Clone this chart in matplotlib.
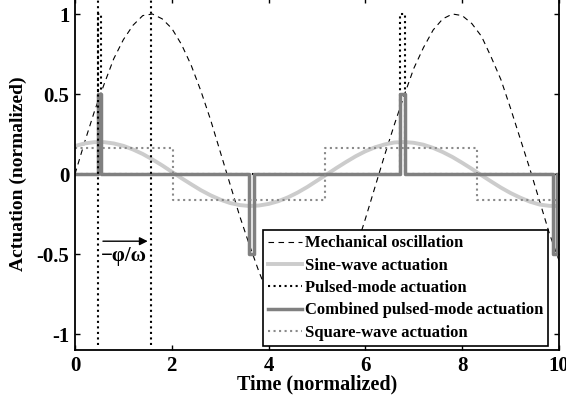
import matplotlib.pyplot as plt

# tempo e curvas (passo 0.2)
t = [round(0.2 * i, 1) for i in range(51)]
mechanical = [0.00, 0.20, 0.39, 0.56, 0.72, 0.84, 0.93, 0.99, 1.00, 0.97,
              0.91, 0.81, 0.68, 0.52, 0.34, 0.14, -0.06, -0.26, -0.44, -0.61,
              -0.76, -0.87, -0.95, -0.99, -1.00, -0.96, -0.88, -0.77, -0.63, -0.47,
              -0.28, -0.08, 0.12, 0.31, 0.49, 0.66, 0.79, 0.90, 0.97, 1.00,
              0.99, 0.94, 0.86, 0.73, 0.59, 0.41, 0.22, 0.03, -0.17, -0.37, -0.54]
sine_act = [0.175, 0.191, 0.199, 0.199, 0.191, 0.176, 0.153, 0.125, 0.091, 0.054,
            0.014, -0.026, -0.064, -0.101, -0.133, -0.160, -0.181, -0.194, -0.200, -0.197,
            -0.187, -0.170, -0.146, -0.116, -0.081, -0.042, -0.003, 0.037, 0.075, 0.111,
            0.142, 0.167, 0.185, 0.197, 0.200, 0.195, 0.183, 0.163, 0.137, 0.106,
            0.070, 0.032, -0.008, -0.047, -0.085, -0.119, -0.148, -0.173, -0.191, -0.199, -0.200]

# pulsos (degraus)
pulse_t = [0, 0.47, 0.54, 6.72, 6.82, 10]
pulse_v = [0, 1, 0, 1, 0, 0]
comb_t = [0, 0.47, 0.54, 3.59, 3.69, 6.72, 6.82, 9.87, 9.96, 10]
comb_v = [0, 0.5, 0, -0.5, 0, 0.5, 0, -0.5, 0, 0]
square_t = [0, 2.03, 5.16, 8.30, 10]
square_v = [0.16, -0.16, 0.16, -0.16, -0.16]

# linhas de referencia da fase
phase_x = [0.47, 1.57]
phase_ybottom = -1.07

plt.rcParams['font.family'] = ['Liberation Serif', 'DejaVu Serif']
plt.rcParams['font.weight'] = 'bold'

fig = plt.figure(figsize=(5.66, 4.0), dpi=100)
ax = fig.add_axes([0.1325, 0.125, 0.8551, 0.88])

ax.plot(t, mechanical, color='black', lw=0.8, dashes=(5, 4), label='Mechanical oscillation')
ax.plot(t, sine_act, color='#cccccc', lw=2.8, label='Sine-wave actuation')
ax.plot(pulse_t, pulse_v, color='black', lw=1.5, ls=':', drawstyle='steps-post',
        label='Pulsed-mode actuation')
ax.plot(comb_t, comb_v, color='#808080', lw=2.5, drawstyle='steps-post',
        label='Combined pulsed-mode actuation')
ax.plot(square_t, square_v, color='#8a8a8a', lw=1.5, ls=':', drawstyle='steps-post',
        label='Square-wave actuation')

for xp in phase_x:
    ax.plot([xp, xp], [phase_ybottom, 1.1], color='black', lw=1.5, ls=':')

ax.annotate('', xy=(1.56, -0.42), xytext=(0.52, -0.42),
            arrowprops=dict(arrowstyle='-|>', color='black', lw=1, mutation_scale=12))
ax.text(1.0, -0.51, '\u2212\u03c6/\u03c9', fontsize=15, ha='center', va='center')

ax.set_xlim(0, 10)
ax.set_ylim(-1.1, 1.1)
ax.set_xticks([0, 2, 4, 6, 8, 10])
ax.set_yticks([-1, -0.5, 0, 0.5, 1])
ax.set_yticklabels(['-1', '-0.5', '0', '0.5', '1'])
ax.tick_params(direction='in', top=True, right=True, length=3.5, width=1, labelsize=15, pad=4)
for s in ax.spines.values():
    s.set_linewidth(1.3)

ax.set_xlabel('Time (normalized)', fontsize=14.5, fontweight='bold', labelpad=-1)
ax.set_ylabel('Actuation (normalized)', fontsize=14, fontweight='bold', labelpad=7)

leg = ax.legend(loc='lower right', bbox_to_anchor=(0.978, 0.012), fontsize=12,
                frameon=True, fancybox=False, edgecolor='black', framealpha=1,
                handlelength=2.0, handletextpad=0.2, labelspacing=0.38,
                borderpad=0.3, borderaxespad=0)
leg.get_frame().set_linewidth(1.2)

plt.savefig('out.png', dpi=100)
